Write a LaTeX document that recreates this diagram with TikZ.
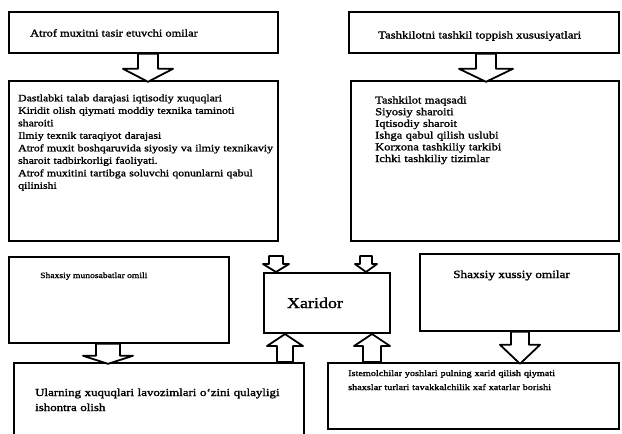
\documentclass[tikz,border=0pt]{standalone}
\usepackage{fontspec}
\setmainfont{Liberation Serif}[FakeStretch=1.2, FakeBold=1.5]
\usetikzlibrary{calc}
\begin{document}
\begin{tikzpicture}[x=1pt,y=-1pt,
  box/.style={draw=black, line width=1.8pt, fill=white, inner sep=0pt, anchor=north west},
  txt/.style={inner sep=0pt, anchor=base west, text=black},
  arr/.style={draw=black, line width=1.8pt, fill=white, line join=round},
  % block arrow: shaft half width, head half width, length, head length
  pics/blockarrow/.style n args={4}{code={%
    \path[arr] ({-#1},0) -- ({-#1},{#3-(#4)}) -- ({-#2},{#3-(#4)}) -- (0,{#3})
      -- ({#2},{#3-(#4)}) -- ({#1},{#3-(#4)}) -- ({#1},0) -- cycle;}}
]
\useasboundingbox (0,0) rectangle (622,434);
\clip (0,0) rectangle (622,434);

% boxes
\node[box, minimum width=269pt, minimum height=41pt] (b1) at (8,11) {};
\node[box, minimum width=270pt, minimum height=41pt] (b2) at (348,11) {};
\node[box, minimum width=269pt, minimum height=160pt] (b3) at (8,80) {};
\node[box, minimum width=268pt, minimum height=160pt] (b4) at (350,80) {};
\node[box, minimum width=220pt, minimum height=86pt] (b5) at (8,256) {};
\node[box, minimum width=126pt, minimum height=60pt] (bx) at (263,272) {};
\node[box, minimum width=199pt, minimum height=77pt] (b6) at (419,253) {};
\node[box, minimum width=290pt, minimum height=90pt] (b7) at (13,362) {};
\node[box, minimum width=291pt, minimum height=66pt] (b8) at (327,362) {};

% texts
\node[txt, font=\fontsize{10.3}{12}\selectfont] (t1) at (30,36.5) {Atrof muxitni tasir etuvchi omilar};
\node[txt, font=\fontsize{10.6}{12}\selectfont] (t2) at (378,38.5) {Tashkilotni tashkil toppish xususiyatlari};
\node[txt, font=\fontsize{9.8}{12.5}\selectfont, text width=256pt, align=left] (t3) at (18,101.3) {%
Dastlabki talab darajasi iqtisodiy xuquqlari\\
\makebox[256pt][s]{Kiridit olish qiymati moddiy texnika taminoti}\\
sharoiti\\
Ilmiy texnik taraqiyot darajasi\\
Atrof muxit boshqaruvida siyosiy va ilmiy texnikaviy\\
sharoit tadbirkorligi faoliyati.\\
Atrof muxitini tartibga soluvchi qonunlarni qabul\\
qilinishi};
\node[txt, font=\fontsize{10.4}{11.7}\selectfont, text width=200pt, align=left] (t4) at (375,103.5) {%
Tashkilot maqsadi\\
Siyosiy sharoiti\\
Iqtisodiy sharoit\\
Ishga qabul qilish uslubi\\
Korxona tashkiliy tarkibi\\
Ichki tashkiliy tizimlar};
\node[txt, font=\fontsize{8}{9}\selectfont] (t5) at (40,278) {Shaxsiy munosabatlar omili};
\node[inner sep=0pt, anchor=base, font=\fontsize{15}{18}\selectfont] (tx) at (315,308) {Xaridor};
\node[txt, font=\fontsize{11}{13}\selectfont] (t6) at (453,278) {Shaxsiy xussiy omilar};
\node[txt, font=\fontsize{10.75}{15}\selectfont, text width=260pt, align=left] (t7) at (35,396) {%
Ularning xuquqlari lavozimlari o`zini qulayligi\\
ishontra olish};
\node[txt, font=\fontsize{8.5}{14}\selectfont, text width=260pt, align=left] (t8) at (348,376) {%
\makebox[259pt][s]{Istemolchilar yoshlari pulning xarid qilish qiymati}\\
shaxslar turlari tavakkalchilik xaf xatarlar borishi};

% block arrows between the boxes
\pic at (148,0 |- b1.south) {blockarrow={10}{25}{28}{13}};
\pic at (486,0 |- b2.south) {blockarrow={10}{27}{28}{13}};
\pic at (276,256) {blockarrow={7}{13}{16}{8}};
\pic at (366,256) {blockarrow={6}{11}{16}{8}};
\pic at (108,0 |- b5.south) {blockarrow={12}{25}{20}{8}};
\pic at (285,0 |- b7.north) {blockarrow={8}{18}{-28}{-12}};
\pic at (372,0 |- b8.north) {blockarrow={9}{18}{-28}{-12}};
\pic at (520,0 |- b6.south) {blockarrow={9}{20}{32}{19}};
\end{tikzpicture}
\end{document}
